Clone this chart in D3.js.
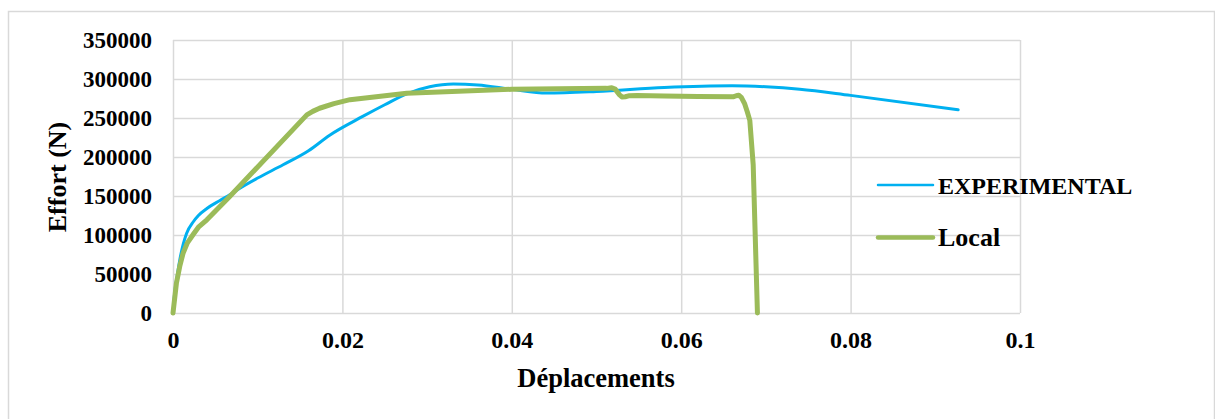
<!DOCTYPE html>
<html>
<head>
<meta charset="utf-8">
<script src="https://cdn.jsdelivr.net/npm/d3@7"></script>
<style>
    body { margin: 0; background: #fff; }
    svg text { font-family: 'Liberation Serif', 'Times New Roman', serif; font-weight: bold; fill: #000; }
</style>
</head>
<body>
<svg id="chart" width="1215" height="419"></svg>
<script>
// Values (displacement, force in N)
const expX = [0, 0.0002, 0.0005, 0.0008, 0.0012, 0.0016, 0.0024, 0.003, 0.004, 0.0055,
    0.0067, 0.0079, 0.01, 0.013, 0.016, 0.0185, 0.0224, 0.025, 0.0276, 0.0303, 0.0331,
    0.036, 0.04, 0.0441, 0.05, 0.058, 0.066, 0.07, 0.074, 0.08, 0.0927];
const expY = [0, 26000, 48000, 68000, 88000, 102000, 117000, 125000, 134000, 144000,
    151500, 160000, 173000, 190000, 208000, 228000, 252000, 267000, 281000, 290000, 293600,
    292300, 286800, 282000, 284000, 289000, 291200, 290000, 287000, 279000, 260500];

const localX = [0, 0.0004, 0.0008, 0.0012, 0.0017, 0.0024, 0.003, 0.004, 0.0067, 0.0158,
    0.0165, 0.0173, 0.019, 0.0209, 0.0276, 0.04, 0.0512, 0.0518, 0.0522, 0.0527, 0.053,
    0.0534, 0.0539, 0.0548, 0.058, 0.062, 0.0662, 0.0665, 0.0668, 0.0671, 0.0675, 0.0678,
    0.0681, 0.0685, 0.069];
const localY = [0, 38000, 60000, 77000, 90000, 101000, 110000, 119500, 149300, 254000,
    258500, 262500, 268500, 273500, 281700, 286800, 288000, 288800, 287000, 280000, 277000,
    277300, 278600, 278800, 278300, 277500, 277300, 278500, 279200, 276500, 268000, 258000,
    247000, 190000, 0];

const seriesNames = ['EXPERIMENTAL', 'Local'];
const xTicks = [0, 0.02, 0.04, 0.06, 0.08, 0.1];
const yTicks = [0, 50000, 100000, 150000, 200000, 250000, 300000, 350000];

const colors = { EXPERIMENTAL: '#00b0f0', Local: '#9bbb59' };
const widths = { EXPERIMENTAL: 3, Local: 5 };

const margin = { top: 40, left: 173, right: 195, bottom: 106 };
const width = 1215 - margin.left - margin.right;
const height = 419 - margin.top - margin.bottom;

const svg = d3.select('#chart');

// outer frame
svg.append('rect')
    .attr('x', 8.5).attr('y', 11.5)
    .attr('width', 1206).attr('height', 420)
    .attr('fill', 'none')
    .attr('stroke', '#d9d9d9')
    .attr('stroke-width', 1.5);

const g = svg.append('g').attr('transform', `translate(${margin.left},${margin.top})`);

const x = d3.scaleLinear().domain([0, 0.1]).range([0, width]);
const y = d3.scaleLinear().domain([0, 350000]).range([height, 0]);

// grid
g.append('g')
    .attr('class', 'grid')
    .call(d3.axisLeft(y).tickValues(yTicks).tickSize(-width).tickFormat(''))
    .call(s => s.select('.domain').remove());
g.append('g')
    .attr('class', 'grid')
    .attr('transform', `translate(0,${height})`)
    .call(d3.axisBottom(x).tickValues(xTicks).tickSize(-height).tickFormat(''))
    .call(s => s.select('.domain').remove());
g.selectAll('.grid line').attr('stroke', '#d9d9d9').attr('stroke-width', 1.5);

// axes labels
g.append('g')
    .call(d3.axisLeft(y).tickValues(yTicks).tickSize(0).tickPadding(21).tickFormat(d3.format('d')))
    .call(s => s.select('.domain').remove())
    .selectAll('text').style('font-size', '23px');
g.append('g')
    .attr('transform', `translate(0,${height})`)
    .call(d3.axisBottom(x).tickValues(xTicks).tickSize(0).tickPadding(18).tickFormat(d3.format('')))
    .call(s => s.select('.domain').remove())
    .selectAll('text').style('font-size', '24px');

svg.append('text')
    .attr('x', 596).attr('y', 387)
    .attr('text-anchor', 'middle')
    .style('font-size', '26.5px')
    .text('Déplacements');

svg.append('text')
    .attr('transform', 'translate(66,177) rotate(-90)')
    .attr('text-anchor', 'middle')
    .style('font-size', '26px')
    .text('Effort (N)');

// lines: the test curve is smooth, the simulation is drawn point to point
const curves = { EXPERIMENTAL: d3.curveMonotoneX, Local: d3.curveLinear };

const data = {
    EXPERIMENTAL: expX.map((v, i) => [v, expY[i]]),
    Local: localX.map((v, i) => [v, localY[i]]),
};

seriesNames.forEach(name => {
    const line = d3.line()
        .x(d => x(d[0]))
        .y(d => y(d[1]))
        .curve(curves[name]);
    g.append('path')
        .datum(data[name])
        .attr('fill', 'none')
        .attr('stroke', colors[name])
        .attr('stroke-width', widths[name])
        .attr('stroke-linejoin', 'round')
        .attr('stroke-linecap', 'round')
        .attr('d', line);
});

// legend
const legend = svg.append('g').attr('transform', 'translate(878,185)');
seriesNames.forEach((name, i) => {
    const row = legend.append('g').attr('transform', `translate(0,${i * 52.5})`);
    row.append('line')
        .attr('x1', 0).attr('x2', 55)
        .attr('stroke', colors[name])
        .attr('stroke-width', widths[name] - 0.5)
        .attr('stroke-linecap', 'round');
    row.append('text')
        .attr('x', 60).attr('y', 8.5)
        .style('font-size', name === 'Local' ? '26px' : '24px')
        .text(name);
});
</script>
</body>
</html>
